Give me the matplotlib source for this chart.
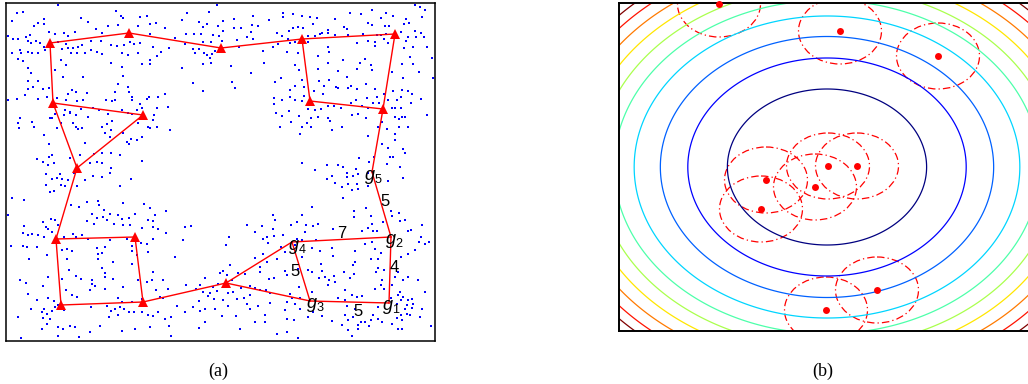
import numpy as np
import matplotlib
matplotlib.use("Agg")
import matplotlib.pyplot as plt
from matplotlib.patches import Ellipse

plt.rcParams['mathtext.fontset'] = 'custom'
plt.rcParams['mathtext.it'] = 'Liberation Sans:italic'
plt.rcParams['mathtext.rm'] = 'Liberation Sans'

# ---------------- panel (a) data (image-pixel coordinates) ----------------
# blue sample points, read per tile: (tile origin) + zoom coords / 3
tile_origins = [(5, 0), (150, 0), (295, 0), (5, 172), (150, 172), (295, 172)]
tile1 = [(158,14),(36,40),(53,36),(22,64),(118,58),(98,68),(118,72),(88,78),(132,95),(150,102),(178,98),(210,95),(227,55),(248,66),(272,88),(292,98),(332,32),(348,48),(354,55),(338,74),(310,78),(404,50),(426,48),(398,78),(375,126),(75,104),(62,112),(10,108),(25,118),(40,118),(68,122),(78,128),(92,124),(105,128),(118,142),(160,125),(188,108),(182,132),(218,140),(232,135),(258,122),(288,122),(318,135),(336,138),(356,135),(388,132),(404,128),(20,160),(45,150),(48,160),(68,155),(82,158),(100,158),(40,178),(55,183),(120,150),(170,148),(190,143),(205,145),(198,158),(215,158),(240,158),(258,150),(275,155),(292,162),(318,190),(352,158),(368,165),(400,160),(436,180),(436,192),(410,192),(168,180),(183,196),(350,200),(355,228),(68,205),(78,218),(150,210),(175,230),(235,232),(100,243),(68,242),(70,268),(83,262),(60,285),(115,268),(132,265),(200,270),(213,275),(188,282),(245,278),(340,252),(368,262),(372,275),(330,275),(380,290),(380,300),(425,298),(432,290),(405,312),(410,325),(395,330),(8,300),(36,297),(100,297),(125,292),(155,293),(183,300),(215,303),(235,300),(303,300),(320,302),(330,300),(180,330),(195,335),(228,328),(265,323),(282,330),(308,342),(350,330),(370,340),(380,342),(322,362),(305,372),(290,380),(400,368),(430,380),(150,343),(140,355),(178,345),(195,340),(212,345),(250,352),(135,355),(46,355),(40,368),(80,366),(88,380),(42,385),(155,383),(168,370),(205,370),(212,380),(220,388),(232,385),(118,405),(132,433),(240,430),(300,400),(318,390),(315,410),(355,400),(372,432),(378,418),(142,465),(132,472),(95,478),(115,485),(130,496),(148,490),(268,462),(290,460),(317,460),(345,465),(275,485),(255,490),(290,490),(317,503),(410,483),(366,425),(196,475),(225,465),(395,420),(410,410)]
tile2 = [(200,14),(112,38),(178,37),(95,60),(147,65),(160,82),(172,72),(205,78),(218,62),(219,92),(253,57),(253,83),(272,84),(310,47),(305,74),(325,77),(302,95),(358,60),(400,40),(400,50),(428,42),(430,83),(380,98),(395,108),(416,92),(414,118),(420,128),(384,133),(370,142),(410,155),(338,152),(342,190),(290,112),(260,120),(267,142),(310,118),(0,72),(18,70),(45,85),(0,103),(76,114),(108,102),(132,103),(154,102),(190,104),(208,108),(216,122),(183,126),(160,126),(104,132),(128,148),(148,146),(134,158),(162,158),(172,165),(186,162),(180,175),(194,152),(222,156),(182,188),(158,192),(10,140),(32,157),(20,167),(58,145),(0,180),(0,192),(95,205),(242,198),(302,218),(247,245),(256,265),(130,250),(158,273),(375,247),(392,235),(434,258),(420,270),(372,295),(396,300),(420,292),(372,313),(378,338),(396,348),(416,332),(422,367),(390,382),(24,290),(45,283),(55,320),(22,323),(12,345),(8,360),(0,383),(22,382),(60,390)]
tile3 = [(360,15),(374,22),(390,30),(20,48),(45,52),(66,55),(55,72),(120,58),(165,38),(198,42),(232,30),(272,40),(258,55),(295,48),(380,52),(332,58),(343,68),(326,73),(218,68),(232,76),(270,78),(282,78),(148,82),(155,88),(10,82),(25,85),(100,90),(100,100),(82,100),(60,108),(75,102),(40,108),(40,126),(0,125),(120,105),(160,105),(205,102),(245,105),(258,104),(272,103),(318,95),(360,92),(362,110),(378,100),(388,112),(308,115),(332,122),(338,112),(326,145),(355,140),(395,140),(185,128),(220,122),(240,125),(240,138),(280,128),(268,118),(100,140),(102,155),(68,168),(10,160),(0,195),(12,210),(68,208),(98,190),(143,180),(210,178),(228,195),(232,210),(185,208),(168,258),(155,232),(130,212),(195,188),(345,170),(322,192),(355,192),(410,175),(373,215),(415,235),(325,235),(292,215),(295,272),(322,270),(340,273),(352,282),(318,290),(305,300),(348,310),(378,298),(395,345),(20,240),(0,257),(28,260),(72,242),(102,240),(88,258),(85,282),(58,272),(122,262),(130,265),(160,265),(185,268),(212,252),(240,268),(245,292),(215,295),(235,310),(268,282),(278,300),(27,288),(0,300),(22,302),(38,328),(60,330),(78,328),(100,318),(118,318),(138,325),(168,310),(182,300),(200,318),(218,323),(252,310),(290,325),(300,325),(318,323),(172,345),(188,342),(212,355),(12,348),(48,355),(70,352),(100,355),(105,362),(35,368),(48,382),(22,382),(112,390),(142,380),(15,403),(260,365),(250,380),(275,388),(300,352),(312,358),(322,352),(330,350),(338,382),(312,382),(300,403),(220,408),(260,432),(280,445),(300,420),(325,448),(330,460),(285,470),(295,472),(222,487),(192,475),(238,472),(275,492),(315,500),(20,488),(95,494),(130,495),(145,502),(183,508),(60,510)]
tile4 = [(122,5),(165,5),(208,3),(240,25),(265,12),(292,15),(315,3),(378,20),(140,22),(155,18),(172,22),(190,25),(168,38),(180,42),(215,42),(123,40),(135,60),(148,58),(20,78),(58,85),(198,98),(222,105),(245,90),(280,87),(282,98),(345,42),(355,92),(418,95),(298,115),(260,125),(275,138),(295,135),(315,125),(338,128),(350,142),(372,138),(390,125),(8,130),(137,140),(150,145),(245,148),(268,155),(305,145),(328,155),(355,158),(375,160),(410,168),(430,145),(115,150),(122,165),(56,162),(130,172),(140,180),(160,158),(53,182),(68,188),(80,187),(100,188),(118,195),(178,195),(205,185),(212,195),(232,190),(250,200),(315,205),(365,200),(390,190),(408,212),(425,215),(18,222),(55,222),(65,225),(95,225),(125,250),(172,235),(185,232),(200,238),(275,228),(278,245),(290,242),(300,225),(380,222),(380,238),(395,248),(428,240),(72,262),(185,262),(278,262),(325,270),(380,275),(290,288),(300,302),(192,295),(170,320),(212,312),(228,320),(260,325),(262,335),(300,315),(325,320),(355,345),(398,325),(425,330),(45,325),(62,332),(130,315),(115,342),(183,355),(200,368),(215,375),(255,355),(270,342),(300,352),(340,378),(350,390),(380,390),(410,380),(95,385),(130,378),(148,388),(68,365),(78,412),(118,410),(110,420),(125,425),(140,418),(150,405),(160,398),(178,415),(258,405),(305,402),(318,418),(330,412),(345,405),(358,410),(372,420),(388,420),(410,420),(340,430),(312,435),(430,430),(38,435),(113,438),(135,440),(125,455),(160,465),(175,472),(195,462),(210,465),(255,480),(285,462),(352,478),(390,470),(112,470),(160,493),(222,495),(48,498)]
tile5 = [(0,108),(14,128),(48,118),(10,148),(8,165),(25,170),(48,183),(8,200),(104,165),(122,162),(100,203),(74,255),(236,195),(228,220),(290,158),(315,180),(336,162),(338,200),(352,195),(355,212),(370,130),(374,145),(370,170),(372,192),(400,188),(422,158),(392,225),(405,240),(380,262),(340,245),(315,258),(330,285),(330,300),(352,270),(358,322),(372,318),(405,298),(410,310),(240,278),(210,302),(218,297),(232,310),(265,302),(285,305),(245,325),(205,335),(190,345),(200,358),(180,362),(165,318),(150,340),(138,350),(158,360),(108,338),(55,350),(38,325),(8,300),(5,325),(18,355),(30,375),(38,378),(80,402),(148,388),(130,405),(166,412),(150,418),(175,372),(193,380),(235,362),(220,385),(195,412),(234,402),(262,382),(250,360),(283,378),(272,348),(300,342),(300,368),(315,348),(330,355),(348,355),(360,362),(290,395),(300,412),(325,402),(360,392),(345,428),(345,450),(315,450),(258,432),(215,432),(165,450),(148,468),(105,420),(62,435),(44,442),(10,432),(25,420),(0,465),(56,462),(62,492),(270,472),(380,485),(410,480),(410,390),(420,365),(405,415),(412,442),(432,445),(425,378)]
tile6 = [(95,20),(112,12),(155,2),(155,15),(175,12),(190,5),(220,3),(120,32),(140,45),(160,35),(185,35),(190,50),(170,55),(218,42),(278,28),(325,17),(145,78),(52,105),(20,130),(5,150),(32,160),(30,180),(55,162),(70,157),(178,118),(176,135),(212,108),(228,132),(230,155),(220,168),(235,178),(245,178),(200,178),(265,150),(288,118),(290,133),(312,122),(315,148),(330,145),(340,178),(348,175),(380,160),(378,195),(372,210),(360,235),(340,245),(318,255),(390,215),(402,210),(115,170),(62,205),(20,205),(5,200),(0,220),(52,228),(75,238),(112,228),(115,252),(180,238),(210,215),(232,210),(240,232),(258,242),(250,262),(228,262),(180,270),(175,280),(148,300),(165,318),(178,305),(242,300),(268,295),(260,325),(258,338),(240,350),(268,352),(290,340),(250,288),(300,315),(310,300),(325,325),(340,315),(315,360),(310,368),(325,375),(340,383),(352,380),(355,395),(350,408),(335,398),(330,410),(335,425),(318,430),(305,438),(322,445),(345,430),(370,325),(390,360),(380,410),(375,435),(20,255),(10,290),(40,295),(52,300),(78,275),(80,298),(90,315),(72,318),(102,325),(12,345),(15,378),(50,360),(100,340),(118,312),(120,330),(150,355),(130,378),(150,385),(170,370),(185,375),(200,372),(155,402),(180,410),(150,430),(160,445),(175,435),(198,450),(190,460),(210,450),(228,445),(235,430),(250,440),(262,450),(222,462),(190,470),(160,475),(140,458),(110,448),(80,432),(40,435),(15,410),(0,395),(55,420),(250,405),(288,378),(305,395),(318,385),(310,470),(322,472),(172,493),(8,497),(408,463),(290,455)]
tiles = [tile1, tile2, tile3, tile4, tile5, tile6]

# graph nodes (triangles) and labelled nodes g1..g5
tri_x = [50, 129, 221, 302, 395, 53, 143, 310, 383, 77, 56, 135, 61, 143, 226]
tri_y = [43, 33, 48, 39, 34, 103, 115, 101, 109, 168, 239, 237, 305, 302, 283]
g_names = ['g1', 'g2', 'g3', 'g4', 'g5']
g_x = [389, 391, 310, 292, 372]
g_y = [303, 237, 301, 242, 172]
# edges between node indices ('t#' = triangle, 'g#' = labelled node)
edges = [('t0','t1'),('t1','t2'),('t2','t3'),('t3','t4'),('t3','t7'),('t7','t8'),
         ('t4','t8'),('t0','t5'),('t5','t6'),('t6','t9'),('t5','t9'),('t9','t10'),
         ('t10','t11'),('t10','t12'),('t11','t13'),('t12','t13'),('t13','t14'),
         ('t14','g4'),('t14','g3'),('g4','g3'),('g4','g2'),('g3','g1'),('g1','g2'),
         ('g2','g5'),('g5','t8')]
# node label text positions and edge weights
g_lab_x = [391, 394, 315, 297, 373]
g_lab_y = [307, 241, 305, 247, 177]
w_vals = ['5', '7', '4', '5', '5']
w_x = [385, 342, 394, 295, 358]
w_y = [202, 233, 267, 272, 312]

# ---------------- panel (b) data ----------------
center_b = (827, 167)
aspect_b = 1.277
contour_radii = [78, 109, 130.5, 151, 166.7, 179.8, 191.9, 203.2, 213.8, 222.5]
pts_x = [719, 840, 938, 828, 857, 766, 815, 761, 877, 826]
pts_y = [4, 31, 56, 166, 166, 180, 187, 209, 290, 310]
circle_rx = 41.5
circle_ry = 33

# ---------------- drawing ----------------
fig = plt.figure(figsize=(10.28, 3.84), dpi=100)
W, H = 1028, 384

axa = fig.add_axes([6/W, (H-341)/H, 429/W, 338/H])
xs, ys = [], []
for (ox, oy), t in zip(tile_origins, tiles):
    for zx, zy in t:
        xs.append(ox + zx/3.0)
        ys.append(oy + zy/3.0)
axa.plot(xs, ys, 's', color='#0000ff', markersize=1.7, markeredgewidth=0, zorder=1)

def node(n):
    i = int(n[1:])
    if n[0] == 't':
        return tri_x[i], tri_y[i]
    return g_x[i-1], g_y[i-1]

for a, b in edges:
    (x1, y1), (x2, y2) = node(a), node(b)
    axa.plot([x1, x2], [y1, y2], '-', color='#ff0000', lw=1.0, zorder=2)
axa.plot(tri_x, tri_y, '^', color='#ff0000', markersize=6.5, markeredgewidth=0, zorder=3)
for name, lx, ly in zip(g_names, g_lab_x, g_lab_y):
    axa.text(lx, ly, r'$g_{%s}$' % name[1:], fontsize=13, ha='center', va='center', zorder=4)
for s, lx, ly in zip(w_vals, w_x, w_y):
    axa.text(lx, ly, s, fontsize=12, ha='center', va='center',
             family='Liberation Sans', zorder=4)
axa.set_xlim(6, 435)
axa.set_ylim(341, 3)
axa.set_xticks([]); axa.set_yticks([])
for sp in axa.spines.values():
    sp.set_linewidth(1.1)

axb = fig.add_axes([619/W, (H-331)/H, 413/W, 328/H])
gx = np.linspace(619, 1032, 600)
gy = np.linspace(3, 331, 500)
GX, GY = np.meshgrid(gx, gy)
F = ((GX - center_b[0]) / aspect_b) ** 2 + (GY - center_b[1]) ** 2
levels = [r * r for r in contour_radii]
cols = plt.cm.jet(np.linspace(0, 1, len(levels)))
axb.contour(GX, GY, F, levels=levels, colors=cols, linewidths=0.9)
for px, py in zip(pts_x, pts_y):
    axb.add_patch(Ellipse((px, py), 2*circle_rx, 2*circle_ry, fill=False,
                          edgecolor='#ff0000', lw=0.9, linestyle=(0, (6, 2.5, 1, 2.5))))
axb.plot(pts_x, pts_y, 'o', color='#ff0000', markersize=5, markeredgewidth=0, zorder=5, clip_on=False)
axb.set_xlim(619, 1032)
axb.set_ylim(331, 3)
axb.set_xticks([]); axb.set_yticks([])
for sp in axb.spines.values():
    sp.set_linewidth(1.4)

fig.text(218/W, 1 - 371/H, '(a)', family='Liberation Serif', fontsize=13, ha='center', va='center')
fig.text(823/W, 1 - 371/H, '(b)', family='Liberation Serif', fontsize=13, ha='center', va='center')

fig.savefig('out.png', dpi=100)
